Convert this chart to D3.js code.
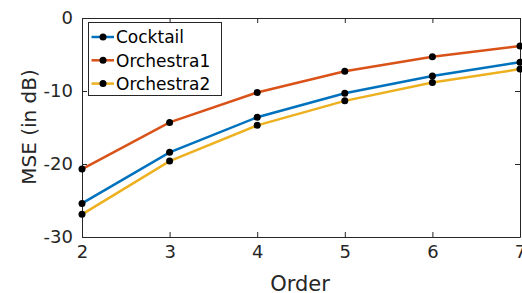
<!DOCTYPE html>
<html>
<head>
<meta charset="utf-8">
<script src="https://cdn.jsdelivr.net/npm/d3@7"></script>
<style>
body { margin: 0; background: #fff; }
svg { font-family: "DejaVu Sans", sans-serif; }
</style>
</head>
<body>
<script>
//chart data
var orders = [2, 3, 4, 5, 6, 7];
var seriesNames = ["Cocktail", "Orchestra1", "Orchestra2"];
var cocktail = [-25.4, -18.4, -13.6, -10.3, -7.95, -6.05];
var orchestra1 = [-20.7, -14.3, -10.2, -7.3, -5.3, -3.85];
var orchestra2 = [-26.9, -19.6, -14.7, -11.35, -8.85, -7.0];
var colors = ["#0072BD", "#D95319", "#EDB120"];
var yTicks = [-30, -20, -10, 0];

(function(){

var width = 522, height = 293;
var padLeft = 82, padRight = 520, padTop = 18, padBottom = 237;

var svg = d3.select("body").append("svg")
    .attr("width", width)
    .attr("height", height);

var x = d3.scaleLinear().domain([2, 7]).range([padLeft, padRight]);
var y = d3.scaleLinear().domain([-30, 0]).range([padBottom, padTop]);

var axisColor = "#262626";
//plain hyphen for negative labels, like the original
var plain = function(d){ return String(d); };

//axes with inward ticks
svg.append("g")
    .attr("transform", "translate(0," + padBottom + ")")
    .call(d3.axisBottom(x).tickValues(orders).tickFormat(plain).tickSizeInner(-5).tickSizeOuter(0).tickPadding(8));
svg.append("g")
    .attr("transform", "translate(" + padLeft + ",0)")
    .call(d3.axisLeft(y).tickValues(yTicks).tickFormat(plain).tickSizeInner(-5).tickSizeOuter(0).tickPadding(9));
svg.append("g")
    .attr("transform", "translate(0," + padTop + ")")
    .call(d3.axisTop(x).tickValues(orders).tickSizeInner(-5).tickSizeOuter(0).tickFormat(""));
svg.append("g")
    .attr("transform", "translate(" + padRight + ",0)")
    .call(d3.axisRight(y).tickValues(yTicks).tickSizeInner(-5).tickSizeOuter(0).tickFormat(""));

svg.selectAll(".domain, .tick line").attr("stroke", axisColor).attr("stroke-width", 1);
svg.selectAll(".tick text").attr("fill", axisColor).style("font-size", "18px")
    .style("font-family", "'DejaVu Sans', sans-serif");

//axis labels
svg.append("text")
    .attr("x", 300)
    .attr("y", 291)
    .attr("text-anchor", "middle")
    .attr("fill", axisColor)
    .style("font-size", "21px")
    .text("Order");
svg.append("text")
    .attr("transform", "translate(36,127) rotate(-90)")
    .attr("text-anchor", "middle")
    .attr("fill", axisColor)
    .style("font-size", "20px")
    .text("MSE (in dB)");

//series lines and markers
var allSeries = [cocktail, orchestra1, orchestra2];
var line = d3.line()
    .x(function(d, i){ return x(orders[i]); })
    .y(function(d){ return y(d); });

allSeries.forEach(function(vals, s){
    svg.append("path")
        .datum(vals)
        .attr("d", line)
        .attr("fill", "none")
        .attr("stroke", colors[s])
        .attr("stroke-width", 2.5);
});
allSeries.forEach(function(vals){
    svg.selectAll(null)
        .data(vals)
        .enter()
        .append("circle")
        .attr("cx", function(d, i){ return x(orders[i]); })
        .attr("cy", function(d){ return y(d); })
        .attr("r", 3.5)
        .attr("fill", "#000");
});

//legend
var legend = svg.append("g").attr("transform", "translate(88.5,22.5)");
legend.append("rect")
    .attr("width", 133)
    .attr("height", 73)
    .attr("fill", "#fff")
    .attr("stroke", axisColor)
    .attr("stroke-width", 1);
seriesNames.forEach(function(name, i){
    var ly = 14.5 + i * 23.3;
    legend.append("line")
        .attr("x1", 3).attr("x2", 25.5)
        .attr("y1", ly).attr("y2", ly)
        .attr("stroke", colors[i])
        .attr("stroke-width", 2.5);
    legend.append("circle")
        .attr("cx", 14.5).attr("cy", ly).attr("r", 3.5).attr("fill", "#000");
    legend.append("text")
        .attr("x", 27.5)
        .attr("y", ly + 6.2)
        .attr("fill", "#000")
        .style("font-size", "17px")
        .text(name);
});

})();
</script>
</body>
</html>
